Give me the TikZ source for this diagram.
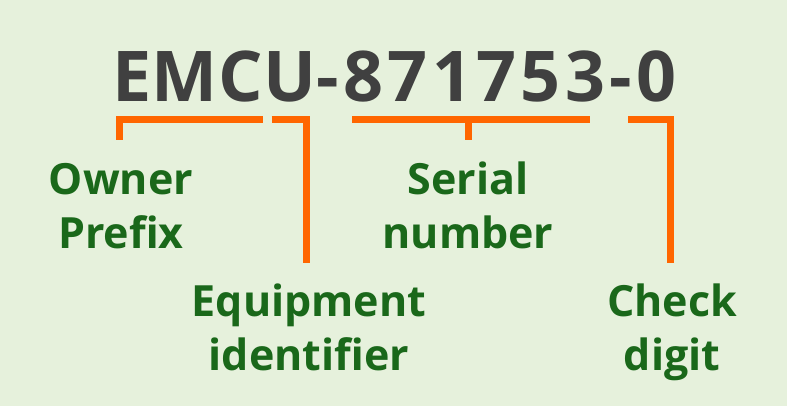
\documentclass[tikz,border=0pt]{standalone}
\usepackage{fontspec}
\setmainfont{Open Sans}
\definecolor{bgc}{HTML}{E6F1DC}
\definecolor{codec}{HTML}{404040}
\definecolor{labc}{HTML}{1A681A}
\definecolor{brc}{HTML}{FF6600}
\begin{document}
\begin{tikzpicture}[x=1pt,y=-1pt,
  code/.style={inner sep=0pt,anchor=base west,text=codec,font={\fontsize{70}{84}\selectfont\bfseries}},
  lab/.style={inner sep=0pt,anchor=base,align=center,text=labc,font={\fontsize{43}{54}\selectfont\bfseries}},
  brk/.style={draw=brc,line width=7pt,line cap=butt,line join=miter}]
\fill[bgc] (0,0) rectangle (787,406);
\useasboundingbox (0,0) rectangle (787,406);
\node[code] (code) at (112,101.7) {\addfontfeature{LetterSpace=0.8}EMCU\addfontfeature{LetterSpace=6.2}-871753-0};
% bracket corners
\coordinate (o1) at (119.5,140);
\coordinate (o2) at (119.5,120);
\coordinate (o3) at (262.7,120);
\coordinate (e1) at (271.7,120);
\coordinate (e2) at (306,120);
\coordinate (e3) at (306,263);
\coordinate (s1) at (352,120);
\coordinate (s2) at (590,120);
\coordinate (sm) at (468,120);
\coordinate (st) at (468,140);
\coordinate (c1) at (628,120);
\coordinate (c2) at (670.5,120);
\coordinate (c3) at (670.5,263);
\draw[brk] (o1) -- (o2) -- (o3);
\draw[brk] (e1) -- (e2) -- (e3);
\draw[brk] (s1) -- (s2);
\draw[brk] (sm) -- (st);
\draw[brk] (c1) -- (c2) -- (c3);
\node[lab] (owner) at (121,248) {Owner\\Prefix};
\node[lab] (serial) at (468,248) {Serial\\number};
\node[lab] (equip) at (309,370) {Equipment\\identifier};
\node[lab] (check) at (672,370) {Check\\digit};
\end{tikzpicture}
\end{document}
